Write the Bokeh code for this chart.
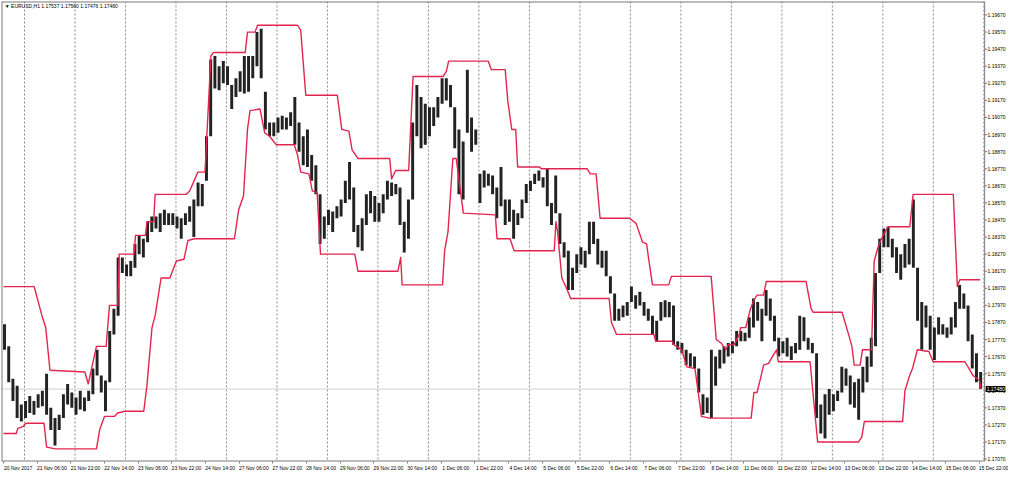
from bokeh.plotting import figure
from bokeh.models import Range1d, FixedTicker, Label, Span, PrintfTickFormatter
from bokeh.embed import file_html
from bokeh.resources import INLINE

# ---- data: EURUSD H1 (2-hour high/low pairs) ----
bar_high = [
    1.1786, 1.1773, 1.1754, 1.1750, 1.1739, 1.1741, 1.1744, 1.1741, 1.1745, 1.1747,
    1.1757, 1.1737, 1.1731, 1.1733, 1.1745, 1.1751, 1.1746, 1.1743, 1.1747, 1.1743,
    1.1747, 1.1760, 1.1771, 1.1756, 1.1753, 1.1782, 1.1795, 1.1825, 1.1825, 1.1821,
    1.1823, 1.1833, 1.1838, 1.1836, 1.1846, 1.1849, 1.1849, 1.1851, 1.1853, 1.1851,
    1.1851, 1.1849, 1.1848, 1.1851, 1.1855, 1.1859, 1.1869, 1.1868, 1.1896, 1.1941,
    1.1943, 1.1937, 1.1940, 1.1937, 1.1926, 1.1930, 1.1934, 1.1943, 1.1943, 1.1943,
    1.1957, 1.1959, 1.1922, 1.1904, 1.1904, 1.1907, 1.1908, 1.1907, 1.1910, 1.1919,
    1.1904, 1.1896, 1.1900, 1.1885, 1.1879, 1.1862, 1.1849, 1.1853, 1.1852, 1.1855,
    1.1859, 1.1870, 1.1881, 1.1866, 1.1844, 1.1848, 1.1862, 1.1864, 1.1861, 1.1857,
    1.1862, 1.1870, 1.1869, 1.1868, 1.1866, 1.1846, 1.1859, 1.1904, 1.1926, 1.1919,
    1.1915, 1.1913, 1.1913, 1.1919, 1.1930, 1.1930, 1.1926, 1.1913, 1.1900, 1.1893,
    1.1935, 1.1907, 1.1900, 1.1874, 1.1876, 1.1874, 1.1873, 1.1866, 1.1878, 1.1859,
    1.1859, 1.1853, 1.1851, 1.1859, 1.1868, 1.1870, 1.1874, 1.1876, 1.1872, 1.1877,
    1.1857, 1.1873, 1.1851, 1.1834, 1.1829, 1.1819, 1.1827, 1.1831, 1.1829, 1.1846,
    1.1846, 1.1836, 1.1829, 1.1829, 1.1814, 1.1804, 1.1795, 1.1797, 1.1799, 1.1808,
    1.1803, 1.1805, 1.1799, 1.1795, 1.1791, 1.1788, 1.1799, 1.1800, 1.1799, 1.1797,
    1.1776, 1.1775, 1.1771, 1.1769, 1.1767, 1.1760, 1.1745, 1.1743, 1.1771, 1.1767,
    1.1771, 1.1773, 1.1775, 1.1776, 1.1782, 1.1782, 1.1781, 1.1790, 1.1801, 1.1799,
    1.1795, 1.1806, 1.1801, 1.1791, 1.1778, 1.1776, 1.1778, 1.1773, 1.1775, 1.1791,
    1.1790, 1.1778, 1.1775, 1.1769, 1.1739, 1.1745, 1.1748, 1.1745, 1.1747, 1.1761,
    1.1760, 1.1756, 1.1752, 1.1754, 1.1761, 1.1767, 1.1778, 1.1816, 1.1836, 1.1842,
    1.1843, 1.1836, 1.1831, 1.1827, 1.1833, 1.1836, 1.1859, 1.1819, 1.1799, 1.1797,
    1.1791, 1.1784, 1.1790, 1.1786, 1.1784, 1.1790, 1.1799, 1.1809, 1.1804, 1.1797,
    1.1780, 1.1769, 1.1758,
]
bar_low = [
    1.1771, 1.1752, 1.1741, 1.1731, 1.1729, 1.1731, 1.1734, 1.1733, 1.1737, 1.1738,
    1.1733, 1.1724, 1.1715, 1.1724, 1.1731, 1.1739, 1.1737, 1.1733, 1.1736, 1.1735,
    1.1741, 1.1745, 1.1756, 1.1746, 1.1735, 1.1752, 1.1780, 1.1791, 1.1816, 1.1814,
    1.1814, 1.1819, 1.1827, 1.1825, 1.1834, 1.1840, 1.1842, 1.1840, 1.1844, 1.1844,
    1.1844, 1.1842, 1.1836, 1.1844, 1.1846, 1.1837, 1.1855, 1.1855, 1.1870, 1.1896,
    1.1924, 1.1923, 1.1927, 1.1926, 1.1912, 1.1919, 1.1922, 1.1921, 1.1922, 1.1930,
    1.1937, 1.1930, 1.1900, 1.1896, 1.1896, 1.1898, 1.1900, 1.1900, 1.1902, 1.1891,
    1.1887, 1.1879, 1.1878, 1.1870, 1.1862, 1.1833, 1.1836, 1.1844, 1.1840, 1.1848,
    1.1849, 1.1857, 1.1859, 1.1840, 1.1831, 1.1829, 1.1844, 1.1851, 1.1846, 1.1846,
    1.1851, 1.1859, 1.1861, 1.1862, 1.1844, 1.1828, 1.1836, 1.1859, 1.1896, 1.1889,
    1.1891, 1.1896, 1.1902, 1.1907, 1.1915, 1.1917, 1.1913, 1.1889, 1.1862, 1.1859,
    1.1898, 1.1887, 1.1891, 1.1857, 1.1866, 1.1867, 1.1862, 1.1848, 1.1855, 1.1844,
    1.1846, 1.1836, 1.1844, 1.1848, 1.1857, 1.1864, 1.1868, 1.1870, 1.1866, 1.1855,
    1.1844, 1.1851, 1.1833, 1.1825, 1.1806, 1.1806, 1.1816, 1.1821, 1.1819, 1.1827,
    1.1833, 1.1821, 1.1819, 1.1814, 1.1804, 1.1788, 1.1788, 1.1790, 1.1791, 1.1799,
    1.1795, 1.1797, 1.1791, 1.1788, 1.1780, 1.1776, 1.1788, 1.1790, 1.1790, 1.1774,
    1.1771, 1.1769, 1.1762, 1.1761, 1.1760, 1.1746, 1.1733, 1.1734, 1.1731, 1.1750,
    1.1760, 1.1763, 1.1767, 1.1769, 1.1773, 1.1776, 1.1776, 1.1778, 1.1784, 1.1788,
    1.1776, 1.1791, 1.1788, 1.1776, 1.1767, 1.1769, 1.1767, 1.1765, 1.1769, 1.1771,
    1.1776, 1.1771, 1.1769, 1.1731, 1.1722, 1.1719, 1.1733, 1.1735, 1.1741, 1.1746,
    1.1750, 1.1739, 1.1737, 1.1730, 1.1746, 1.1752, 1.1761, 1.1773, 1.1816, 1.1831,
    1.1831, 1.1825, 1.1816, 1.1812, 1.1819, 1.1821, 1.1819, 1.1788, 1.1771, 1.1784,
    1.1771, 1.1765, 1.1780, 1.1780, 1.1778, 1.1780, 1.1784, 1.1795, 1.1795, 1.1776,
    1.1760, 1.1752, 1.1748,
]

# channel lines: (bar index, price) vertices
upper_idx = [0, 14.6, 18.5, 20.1, 22.1, 38.7, 40.3, 44.2, 48.8, 50.4, 54.3, 55.0, 62.0, 62.8, 67.5,
             68.2, 71.4, 72.1, 86.9, 88.5, 92.4, 95.8, 98.6, 99.8, 114.9, 116.0, 119.6, 120.8, 139.8, 141.3,
             143.7, 158.7, 160.8, 164.2, 165.7, 168.5, 183.6, 184.5, 186.4, 192.6, 194.7, 209.0, 210.5, 211.6, 230.4,
             231.9, 238.5, 239.7, 241.6, 243.5, 244.4, 254.8, 255.6, 277.4, 278.9, 281.7, 283.6, 297.6, 300.7, 303.8,
             305.7, 306.6, 308.5, 316.2, 317.5, 336.4, 338.8, 341.1, 343.4, 344.5, 347.3, 349.8, 350.4, 352.8, 355.1,
             356.7, 358.2, 361.3, 362.6, 381.5, 383.9, 384.9, 398.6, 401.7, 403.3, 404.4, 407.2, 408.3, 412.6, 413.9,
             415.7, 417.3, 420.4, 430.8, 432.4, 451.5, 453.4, 454.6, 464.2]
upper_val = [1.1808, 1.1808, 1.1790, 1.1784, 1.1759, 1.1758, 1.1751, 1.1773, 1.1773, 1.1797, 1.1797, 1.1827, 1.1827, 1.1838, 1.1838,
             1.1846, 1.1846, 1.1862, 1.1862, 1.1864, 1.1875, 1.1875, 1.1943, 1.1945, 1.1945, 1.1957, 1.1957, 1.1961, 1.1961, 1.1958,
             1.1920, 1.1920, 1.1900, 1.1899, 1.1888, 1.1883, 1.1883, 1.1871, 1.1876, 1.1876, 1.1931, 1.1931, 1.1934, 1.1940, 1.1940,
             1.1935, 1.1935, 1.1917, 1.1900, 1.1900, 1.1878, 1.1878, 1.1877, 1.1877, 1.1874, 1.1874, 1.1848, 1.1848, 1.1845, 1.1834,
             1.1833, 1.1825, 1.1809, 1.1809, 1.1814, 1.1814, 1.1777, 1.1775, 1.1771, 1.1774, 1.1774, 1.1780, 1.1784, 1.1784, 1.1795,
             1.1800, 1.1803, 1.1803, 1.1811, 1.1811, 1.1795, 1.1793, 1.1793, 1.1780, 1.1773, 1.1762, 1.1762, 1.1771, 1.1771, 1.1823,
             1.1831, 1.1836, 1.1843, 1.1843, 1.1862, 1.1862, 1.1808, 1.1812, 1.1812]
lower_idx = [0, 6.1, 6.8, 9.2, 10.7, 19.3, 20.5, 24.7, 44.2, 45.7, 48.0, 52.7, 54.3, 57.8, 66.7,
             68.2, 70.6, 72.1, 74.9, 79.1, 82.2, 85.8, 87.7, 90.8, 109.8, 111.8, 114.1, 116.0, 117.2, 121.9,
             124.2, 126.5, 129.7, 138.2, 139.8, 141.3, 145.2, 146.8, 149.1, 150.7, 167.0, 168.5, 187.5, 188.8, 189.5,
             208.7, 209.7, 211.3, 213.6, 215.2, 218.6, 233.8, 234.6, 240.8, 242.7, 261.8, 262.6, 263.4, 265.4, 268.0,
             269.6, 287.9, 289.0, 291.4, 309.2, 310.0, 317.8, 318.6, 322.4, 324.8, 328.7, 331.8, 335.7, 355.4, 356.7,
             358.2, 359.8, 361.3, 363.7, 366.0, 367.5, 368.3, 383.4, 387.0, 406.4, 408.0, 409.2, 427.4, 428.5, 430.5,
             432.1, 434.4, 439.9, 441.9, 457.0, 458.5, 460.8, 463.9, 464.7]
lower_val = [1.1722, 1.1722, 1.1725, 1.1726, 1.1728, 1.1728, 1.1714, 1.1713, 1.1713, 1.1724, 1.1732, 1.1732, 1.1734, 1.1735, 1.1735,
             1.1750, 1.1784, 1.1791, 1.1813, 1.1813, 1.1823, 1.1824, 1.1835, 1.1836, 1.1836, 1.1853, 1.1861, 1.1900, 1.1911, 1.1912,
             1.1898, 1.1896, 1.1891, 1.1891, 1.1885, 1.1875, 1.1874, 1.1864, 1.1863, 1.1827, 1.1827, 1.1817, 1.1817, 1.1825, 1.1809,
             1.1809, 1.1829, 1.1840, 1.1883, 1.1883, 1.1851, 1.1850, 1.1836, 1.1836, 1.1829, 1.1829, 1.1846, 1.1840, 1.1813, 1.1806,
             1.1801, 1.1801, 1.1787, 1.1780, 1.1780, 1.1776, 1.1776, 1.1774, 1.1771, 1.1761, 1.1760, 1.1732, 1.1731, 1.1731, 1.1746,
             1.1746, 1.1754, 1.1762, 1.1763, 1.1768, 1.1771, 1.1764, 1.1764, 1.1717, 1.1717, 1.1720, 1.1729, 1.1729, 1.1747, 1.1755,
             1.1760, 1.1771, 1.1770, 1.1764, 1.1764, 1.1761, 1.1756, 1.1753, 1.1748]

time_labels = ["20 Nov 2017", "21 Nov 06:00", "21 Nov 22:00", "22 Nov 14:00", "23 Nov 06:00", "23 Nov 22:00",
               "24 Nov 14:00", "27 Nov 06:00", "27 Nov 22:00", "28 Nov 14:00", "29 Nov 06:00", "29 Nov 22:00",
               "30 Nov 14:00", "1 Dec 06:00", "1 Dec 22:00", "4 Dec 14:00", "5 Dec 06:00", "5 Dec 22:00",
               "6 Dec 14:00", "7 Dec 06:00", "7 Dec 22:00", "8 Dec 14:00", "11 Dec 06:00", "11 Dec 22:00",
               "12 Dec 14:00", "13 Dec 06:00", "13 Dec 22:00", "14 Dec 14:00", "15 Dec 06:00", "15 Dec 22:00"]
header = "\u25BC EURUSD,H1  1.17537 1.17560 1.17476 1.17480"
last_price = 1.17480
price_ticks = [round(1.17070 + 0.001 * k, 5) for k in range(27)]

HOURS_PER_LABEL = 16
FIRST_DAY_START = 10      # 21 Nov 00:00 is the 10th bar after 20 Nov 14:00
BARS_PER_DAY = 24
N_DAY_BREAKS = 20

# ---- layout constants ----
FONT = "Liberation Sans"
GREY = "#7a7a7a"
RED = "#e3254e"
x0, chart_end, x_end = -0.93, 466.4, 476.3   # chart border at 466.4, price scale drawn to its right
ymin, ymax = 1.17056, 1.19749
LABEL_SHIFT = 7                               # time labels start at their tick (left aligned look)

p = figure(width=1008, height=473, output_backend="svg", toolbar_location=None,
           x_range=Range1d(x0, x_end), y_range=Range1d(ymin, ymax),
           y_axis_location="right", min_border_left=1, min_border_top=1,
           min_border_right=1, min_border_bottom=10)
p.xgrid.visible = False
p.ygrid.visible = False
p.outline_line_color = None
p.background_fill_color = "white"
p.border_fill_color = "white"

# right price scale: labels pulled back inside the frame area right of the chart border
p.yaxis.ticker = FixedTicker(ticks=price_ticks)
p.yaxis.formatter = PrintfTickFormatter(format="%.5f")
p.yaxis.major_label_text_font_size = "5px"
p.yaxis.major_label_text_font = FONT
p.yaxis.major_label_text_color = "#000000"
p.yaxis.major_tick_out = 0
p.yaxis.major_tick_in = 0
p.yaxis.minor_tick_line_color = None
p.yaxis.major_tick_line_color = None
p.yaxis.major_label_standoff = -18
p.yaxis.axis_line_color = None

# bottom time axis: labels on shifted major ticks, tick marks as minor ticks
label_pos = [HOURS_PER_LABEL * k for k in range(len(time_labels))]
label_ticks = [v + LABEL_SHIFT for v in label_pos]
p.xaxis.ticker = FixedTicker(ticks=label_ticks, minor_ticks=label_pos)
p.xaxis.major_label_overrides = {t: s for t, s in zip(label_ticks, time_labels)}
p.xaxis.major_label_text_font_size = "5px"
p.xaxis.major_label_text_font = FONT
p.xaxis.major_label_text_color = "#000000"
p.xaxis.major_label_standoff = 1
p.xaxis.major_tick_line_color = None
p.xaxis.major_tick_out = 0
p.xaxis.major_tick_in = 0
p.xaxis.minor_tick_line_color = GREY
p.xaxis.minor_tick_out = 2
p.xaxis.minor_tick_in = 0
p.xaxis.axis_line_color = None

# day separators (one dotted line at each midnight)
for k in range(N_DAY_BREAKS):
    p.add_layout(Span(location=FIRST_DAY_START + BARS_PER_DAY * k, dimension="height",
                      line_color="#8a8a8a", line_width=1, line_dash="2 2", level="underlay"))

# last price line
p.segment(x0=[x0], y0=[last_price], x1=[chart_end], y1=[last_price], line_color="#d0d0d0", line_width=1)

# chart border (left, top, bottom, right) and price tick marks
p.segment(x0=[x0, x0, x0, chart_end], y0=[ymin, ymax, ymin, ymin],
          x1=[x0, chart_end, chart_end, chart_end], y1=[ymax, ymax, ymin, ymax],
          line_color=GREY, line_width=[2, 2, 2, 1])
p.segment(x0=[chart_end] * len(price_ticks), y0=price_ticks,
          x1=[chart_end + 1.2] * len(price_ticks), y1=price_ticks, line_color=GREY, line_width=1)

# bars
bar_x = [2 * j + 0.5 for j in range(len(bar_high))]
p.vbar(x=bar_x, width=1.4, top=bar_high, bottom=bar_low, fill_color="#222222", line_color=None)

# channel
p.line(upper_idx, upper_val, line_color=RED, line_width=1.4, line_join="round")
p.line(lower_idx, lower_val, line_color=RED, line_width=1.4, line_join="round")

# header
p.add_layout(Label(x=0.6, y=ymax - 0.00006, text=header, text_font=FONT, text_font_size="5px",
                   text_align="left", text_baseline="top", text_color="#000000"))

# last price box on the price scale
p.add_layout(Label(x=chart_end, y=last_price, x_offset=1, text="1.17480", text_font=FONT,
                   text_font_size="5px", text_align="left", text_baseline="middle",
                   text_color="white", background_fill_color="black", padding=1))

open("out.html", "w").write(file_html(p, INLINE))
